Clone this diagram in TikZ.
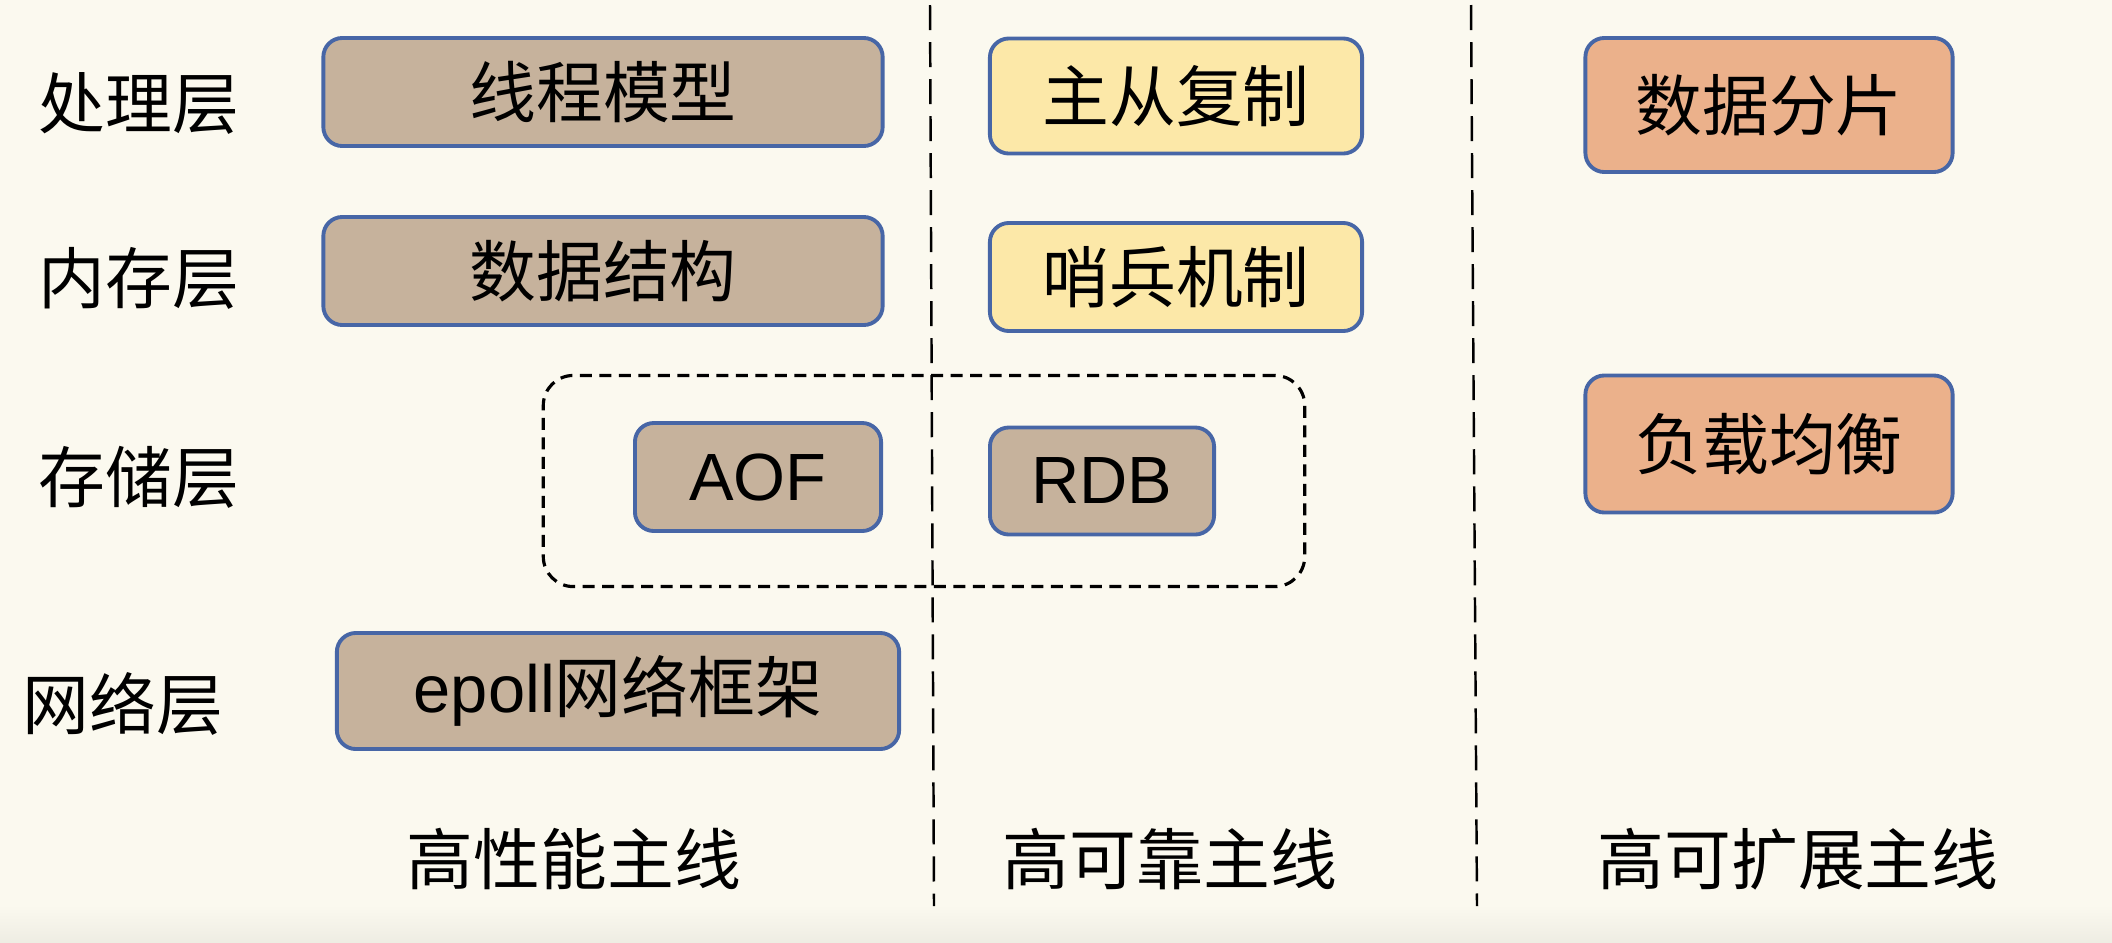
\documentclass[tikz,border=0pt]{standalone}
\usepackage{fontspec}
\setmainfont{Noto Sans CJK SC}
\newfontfamily\lat{Liberation Sans}
\usetikzlibrary{positioning}

\definecolor{bgc}{HTML}{FBF9EF}
\definecolor{tanc}{HTML}{C6B29C}
\definecolor{ylwc}{HTML}{FCE8A8}
\definecolor{orgc}{HTML}{EBB18B}
\definecolor{edgec}{HTML}{4766A6}

\begin{document}
\begin{tikzpicture}[x=0.01cm, y=-0.01cm,
    every node/.style={font=\fontsize{19}{23}\selectfont, inner sep=0pt},
    bx/.style={rectangle, rounded corners=0.19cm, draw=edgec, line width=1.1pt},
    hp/.style={bx, fill=tanc},
    ha/.style={bx, fill=ylwc},
    hs/.style={bx, fill=orgc},
    lyr/.style={anchor=center},
    sep/.style={line width=0.7pt, dash pattern=on 0.25cm off 0.12cm},
    grp/.style={rectangle, rounded corners=0.3cm, draw, line width=0.9pt,
                dash pattern=on 0.12cm off 0.075cm},
  ]
  \fill[bgc] (0,0) rectangle (2112,942);
  \shade[top color=bgc, bottom color=black!5!bgc] (0,905) rectangle (2112,942);
  \useasboundingbox (0,0) rectangle (2112,942);

  % layers
  \node[lyr] (l1) at (139, 103) {处理层};
  \node[lyr] (l2) at (139, 278) {内存层};
  \node[lyr] (l3) at (139, 477) {存储层};
  \node[lyr] (l4) at (123, 704) {网络层};

  % columns
  \coordinate (s1t) at (930, 5);
  \coordinate (s1b) at (934, 906);
  \coordinate (s2t) at (1471, 5);
  \coordinate (s2b) at (1477, 906);
  \draw[sep] (s1t) -- (s1b);
  \draw[sep] (s2t) -- (s2b);

  % high performance
  \node[hp, minimum width=5.59cm, minimum height=1.08cm] (thr) at (603, 92) {线程模型};
  \node[hp, minimum width=5.59cm, minimum height=1.08cm] (ds) at (603, 271) {数据结构};
  \node[hp, minimum width=2.46cm, minimum height=1.08cm] (aof) at (758, 477) {\lat AOF};
  \node[hp, minimum width=5.62cm, minimum height=1.16cm] (net) at (618, 691) {{\lat epoll}网络框架};

  % high availability
  \node[ha, minimum width=3.72cm, minimum height=1.15cm] (repl) at (1176, 96) {主从复制};
  \node[ha, minimum width=3.72cm, minimum height=1.08cm] (sent) at (1176, 277) {哨兵机制};
  \node[hp, minimum width=2.24cm, minimum height=1.07cm] (rdb) at (1102, 481) {\lat RDB};

  % scalability
  \node[hs, minimum width=3.67cm, minimum height=1.34cm] (shard) at (1769, 105) {数据分片};
  \node[hs, minimum width=3.67cm, minimum height=1.37cm] (lb) at (1769, 444) {负载均衡};

  % persistence group
  \node[grp, minimum width=7.61cm, minimum height=2.11cm] (pers) at (924, 481) {};

  \node (c1) at (574, 859) {高性能主线};
  \node (c2) at (1170, 859) {高可靠主线};
  \node (c3) at (1798, 859) {高可扩展主线};
\end{tikzpicture}
\end{document}
